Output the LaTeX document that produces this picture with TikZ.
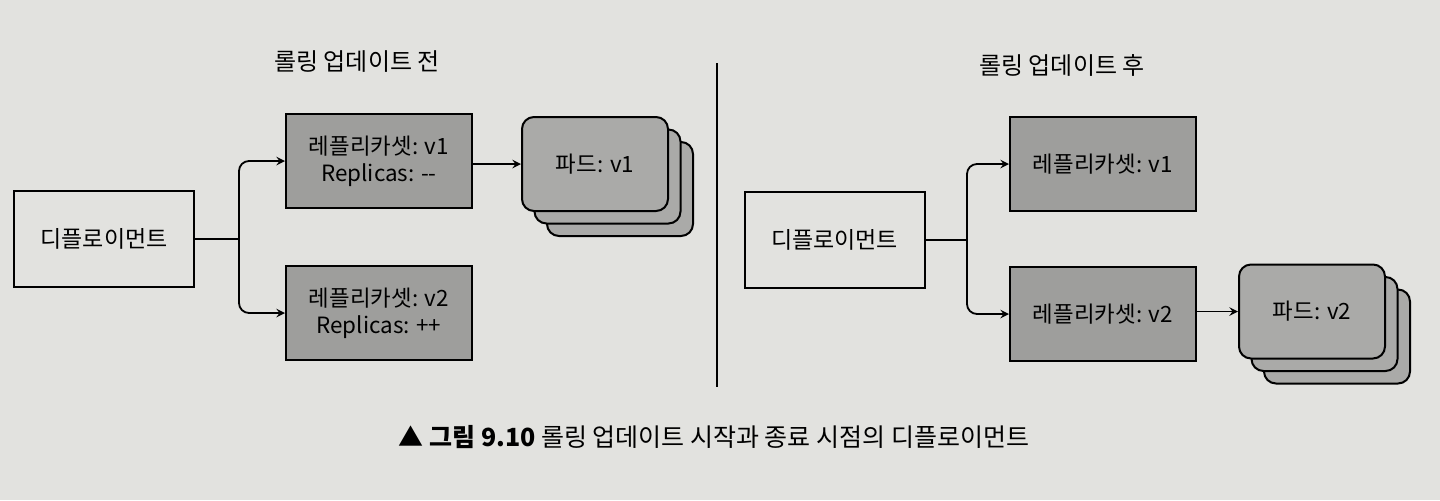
\documentclass[tikz,border=0pt]{standalone}
\usepackage{fontspec}
\setmainfont{Noto Sans CJK KR}
\usepackage{tikz}
\usetikzlibrary{calc, positioning, arrows, backgrounds}
\definecolor{paper}{RGB}{226,226,223}
\definecolor{rsgray}{RGB}{158,158,156}
\definecolor{podgray}{RGB}{170,170,168}
\tikzstyle{dep}=[draw, line width=1pt, fill=paper, inner sep=0pt, minimum width=90pt, minimum height=48pt, font=\fontsize{11.5}{14}\selectfont]
\tikzstyle{rs}=[draw, line width=1pt, fill=rsgray, inner sep=0pt, minimum width=93pt, minimum height=47pt, align=center, font=\fontsize{11.2}{13.5}\selectfont]
\tikzstyle{pod}=[draw, line width=1pt, fill=podgray, inner sep=0pt, rounded corners=6pt, minimum width=73pt, minimum height=47pt, font=\fontsize{11.2}{13.5}\selectfont]
\tikzstyle{ttl}=[inner sep=0pt, font=\fontsize{12}{14}\selectfont]
\tikzstyle{arr}=[->, line width=0.9pt, rounded corners=5pt]
\tikzset{>=stealth}

\begin{document}
\begin{tikzpicture}[x=0.5pt, y=-0.5pt]
\fill[paper] (0,0) rectangle (1440,500);
\useasboundingbox (0,0) rectangle (1440,500);
% the titles
\node[ttl] (T1) at (357,62) {롤링 업데이트 전};
\node[ttl] (T2) at (1062,65) {롤링 업데이트 후};
% the divider
\coordinate (D0) at (717,63);
\coordinate (D1) at (717,387);
\draw[line width=0.6pt] (D0) -- (D1);
% before the rolling update
\node[dep] (P1) at (104,239) {디플로이먼트};
\node[rs] (R1) at (379,161) {레플리카셋: v1\\Replicas: -{}-};
\node[rs] (R2) at (379,313) {레플리카셋: v2\\Replicas: ++};
\node[pod] (Q3) at (620,189) {};
\node[pod] (Q2) at (607.5,176.5) {};
\node[pod] (Q1) at (595,164) {파드: v1};
\coordinate (B1) at (239,239);
\draw[line width=0.9pt] (P1.east) -- (B1);
\draw[arr] (B1) |- (R1.west);
\draw[arr] (B1) |- (R2.west);
\draw[arr] (R1.east |- Q1.west) -- (Q1.west);
% after the rolling update
\node[dep] (P2) at (834.5,240) {디플로이먼트};
\node[rs] (S1) at (1103,164) {레플리카셋: v1};
\node[rs] (S2) at (1103,314) {레플리카셋: v2};
\node[pod] (U3) at (1337,336.5) {};
\node[pod] (U2) at (1324.5,324) {};
\node[pod] (U1) at (1312,311.5) {파드: v2};
\coordinate (B2) at (967,240);
\draw[line width=0.9pt] (P2.east) -- (B2);
\draw[arr] (B2) |- (S1.west);
\draw[arr] (B2) |- (S2.west);
\draw[arr] (S2.east |- U1.west) -- (U1.west);
% the caption
\node[inner sep=0pt, font=\fontsize{12.5}{15}\selectfont] (C) at (714,437) {▲ \textbf{그림 9.10} 롤링 업데이트 시작과 종료 시점의 디플로이먼트};
\end{tikzpicture}
\end{document}
